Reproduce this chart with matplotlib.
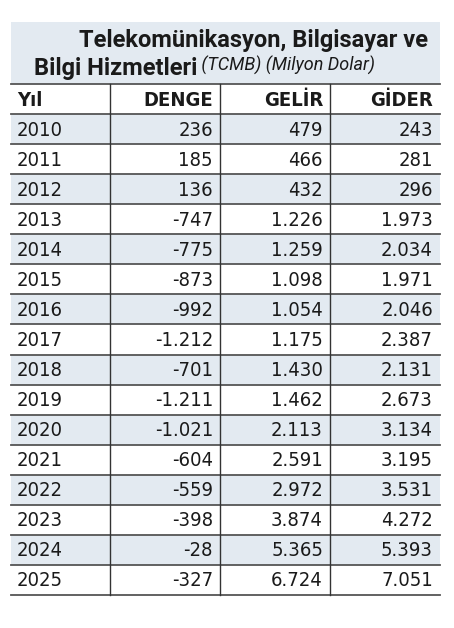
import matplotlib.pyplot as plt
from matplotlib.patches import Rectangle

years = list(range(2010, 2026))
denge = ["236", "185", "136", "-747", "-775", "-873", "-992", "-1.212", "-701",
         "-1.211", "-1.021", "-604", "-559", "-398", "-28", "-327"]
gelir = ["479", "466", "432", "1.226", "1.259", "1.098", "1.054", "1.175", "1.430",
         "1.462", "2.113", "2.591", "2.972", "3.874", "5.365", "6.724"]
gider = ["243", "281", "296", "1.973", "2.034", "1.971", "2.046", "2.387", "2.131",
         "2.673", "3.134", "3.195", "3.531", "4.272", "5.393", "7.051"]
headers = ["Yıl", "DENGE", "GELİR", "GİDER"]

SHADE = "#e3eaf1"
LINE = "#555555"

fig = plt.figure(figsize=(4.54, 6.28), dpi=100)
ax = fig.add_axes([0, 0, 1, 1])
ax.set_xlim(0, 454)
ax.set_ylim(628, 0)
ax.axis("off")

left, right = 11, 440
cols = [left, 110, 220, 330, right]
top_title, top_head = 22, 84
rh = 30.06

# title box
ax.add_patch(Rectangle((left, top_title), right - left, top_head - top_title, color=SHADE, lw=0))
ax.text(428, 41, "Telekomünikasyon, Bilgisayar ve", ha="right", va="center",
        fontsize=17, fontweight="bold", family="Roboto", color="#1a1a1a")
t = ax.text(34, 68, "Bilgi Hizmetleri", ha="left", va="center",
            fontsize=17, fontweight="bold", family="Roboto", color="#1a1a1a")
ax.annotate(" (TCMB) (Milyon Dolar)", xy=(1, 0.2), xycoords=t, ha="left", va="bottom",
            fontsize=13, style="italic", family="Roboto", color="#1a1a1a")

rows = [headers] + [[str(y), d, g, c] for y, d, g, c in zip(years, denge, gelir, gider)]
for i, row in enumerate(rows):
    y0 = top_head + i * rh
    if i > 0 and years[i - 1] % 2 == 0:
        ax.add_patch(Rectangle((left, y0), right - left, rh, color=SHADE, lw=0))
    ax.plot([left, right], [y0, y0], color=LINE, lw=1.3)
    weight = "bold" if i == 0 else "normal"
    yc = y0 + rh / 2 + 1
    for j, txt in enumerate(row):
        if j == 0:
            x, ha = cols[0] + 6, "left"
        else:
            x, ha = cols[j + 1] - 7, "right"
        ax.text(x, yc, txt, ha=ha, va="center", fontsize=14.5, family="DejaVu Sans",
                fontstretch="condensed", fontweight=weight, color="#1a1a1a")
bottom = top_head + len(rows) * rh
ax.plot([left, right], [bottom, bottom], color=LINE, lw=1.3)
for x in cols[1:-1]:
    ax.plot([x, x], [top_head, bottom], color="#333333", lw=1)

fig.savefig("out.png", dpi=100)
